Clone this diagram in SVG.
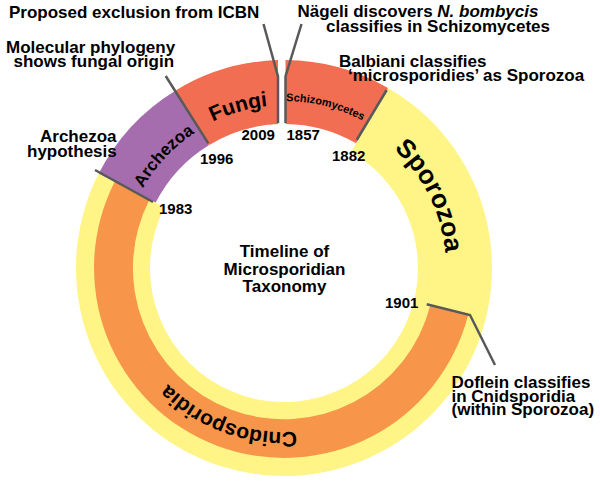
<svg xmlns="http://www.w3.org/2000/svg" width="600" height="486" viewBox="0 0 600 486">
<style>
text{font-family:"Liberation Sans",Arial,sans-serif;font-weight:bold;fill:#000}
.ann{font-size:17px}
.yr{font-size:15px}
.conn{fill:none;stroke:#595959;stroke-width:2.5;stroke-linejoin:miter}
.yellow{fill:#FFF587}
.orange{fill:#F7964B}
.coral{fill:#F26E52}
.purple{fill:#A66DAE}
</style>
<defs>
<path id="pSpor" d="M322.4,110.6 A162,162 0 0 1 432.3,333.1"/>
<path id="pCnid" d="M365.4,410.4 A164,164 0 0 1 129.6,323.4"/>
<path id="pArch" d="M122.2,259.5 A162,162 0 0 1 264.3,107.2"/>
<path id="pFung" d="M149.1,176.5 A164,164 0 0 1 350.7,119.3"/>
<path id="pSchi" d="M211.7,117.4 A167,167 0 0 1 419.7,170.7"/>
</defs>
<rect width="600" height="486" fill="#fff"/>

<g id="sporozoa">
<path class="yellow" d="M388,87.9 A208,208 0 1 1 98.7,173.6 L164.6,207.2 A134,134 0 1 0 351,152 Z"/>
<text style="font-size:26px"><textPath href="#pSpor" startOffset="50%" text-anchor="middle">Sporozoa</textPath></text>
</g>
<g id="cnidosporidia">
<path class="orange" d="M468.1,314.9 A190,190 0 1 1 114.7,181.7 L149.5,199.4 A151,151 0 1 0 430.3,305.3 Z"/>
<text style="font-size:21px"><textPath href="#pCnid" startOffset="50%" text-anchor="middle">Cnidosporidia</textPath></text>
</g>
<g id="archezoa">
<path class="purple" d="M98.7,173.6 A208,208 0 0 1 175.3,90.7 L208.8,145.2 A144,144 0 0 0 155.7,202.6 Z"/>
<text style="font-size:17px"><textPath href="#pArch" startOffset="50%" text-anchor="middle">Archezoa</textPath></text>
</g>
<g id="fungi">
<path class="coral" d="M175.3,90.7 A208,208 0 0 1 278,60.1 L278,124.1 A144,144 0 0 0 208.8,145.2 Z"/>
<text style="font-size:21px"><textPath href="#pFung" startOffset="50%" text-anchor="middle">Fungi</textPath></text>
</g>
<g id="schizomycetes">
<path class="coral" d="M285.5,60 A208,208 0 0 1 388,87.9 L356,143.3 A144,144 0 0 0 285.5,124 Z"/>
<text style="font-size:11px"><textPath href="#pSchi" startOffset="50%" text-anchor="middle">Schizomycetes</textPath></text>
</g>

<g id="connectors">
<polyline class="conn" points="263.5,24 278,76.5 278,123"/>
<polyline class="conn" points="301.5,24 285.5,76.5 285.5,123"/>
<line class="conn" x1="386.7" y1="90" x2="356.7" y2="140"/>
<line class="conn" x1="165.7" y1="76" x2="208.3" y2="143.3"/>
<line class="conn" x1="95" y1="170" x2="153" y2="202"/>
<polyline class="conn" points="426.7,304.3 470,315 495,365"/>
</g>

<g id="years">
<text class="yr" x="241.5" y="140">2009</text>
<text class="yr" x="286.5" y="140">1857</text>
<text class="yr" x="332" y="160.5">1882</text>
<text class="yr" x="200" y="164">1996</text>
<text class="yr" x="159" y="214">1983</text>
<text class="yr" x="385" y="308.3">1901</text>
</g>

<g id="title">
<text class="ann" text-anchor="middle" x="284.5" y="257">Timeline of</text>
<text class="ann" text-anchor="middle" x="284.5" y="274.5">Microsporidian</text>
<text class="ann" text-anchor="middle" x="284.5" y="292">Taxonomy</text>
</g>

<g id="note-icbn">
<text class="ann" x="9" y="18.3">Proposed exclusion from ICBN</text>
</g>
<g id="note-nageli">
<text class="ann" x="297.5" y="16.7">Nägeli discovers <tspan font-style="italic">N. bombycis</tspan></text>
<text class="ann" x="326" y="31.7">classifies in Schizomycetes</text>
</g>
<g id="note-balbiani">
<text class="ann" x="339" y="66.7">Balbiani classifies</text>
<text class="ann" x="348" y="81">‘microsporidies’ as Sporozoa</text>
</g>
<g id="note-molecular">
<text class="ann" x="6" y="53.3">Molecular phylogeny</text>
<text class="ann" x="13.5" y="66.7">shows fungal origin</text>
</g>
<g id="note-archezoa">
<text class="ann" x="40" y="141.7">Archezoa</text>
<text class="ann" x="27" y="156.7">hypothesis</text>
</g>
<g id="note-doflein">
<text class="ann" x="451.5" y="388.3">Doflein classifies</text>
<text class="ann" x="451.5" y="401.7">in Cnidsporidia</text>
<text class="ann" x="451.5" y="415">(within Sporozoa)</text>
</g>
</svg>
